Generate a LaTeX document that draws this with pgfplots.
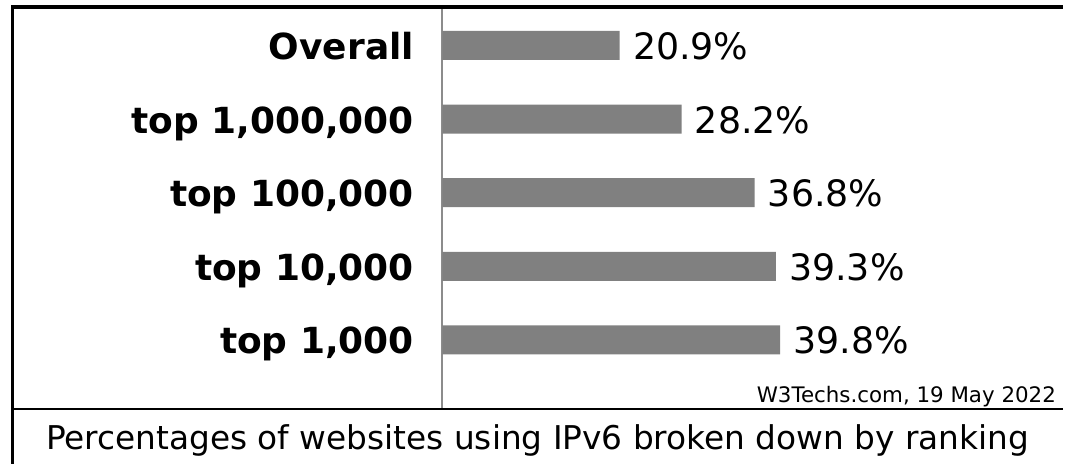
\documentclass[border=0pt]{standalone}
\usepackage{fontspec}
\setmainfont{DejaVu Sans}
\usepackage{pgfplots}
\pgfplotsset{compat=1.18}
\definecolor{barcol}{RGB}{128,128,128}
\definecolor{axcol}{RGB}{140,140,140}
\begin{document}
\begin{tikzpicture}
% 1 px of the reference = 0.5pt
\begin{scope}[x=0.5pt,y=-0.5pt]
  \useasboundingbox (0,0) rectangle (1065,465);
\end{scope}
\begin{axis}[
  at={(221.5pt,-205pt)}, anchor=south west,
  xbar,
  scale only axis,
  width=309.5pt, height=201pt,
  xmin=0, xmax=72.82,
  ymin=-0.942, ymax=4.508,
  bar width=14.5pt,
  axis x line=none,
  axis y line*=left,
  y axis line style={draw=axcol, line width=1pt, -},
  ytick={0,1,2,3,4},
  yticklabels={top 1{,}000, top 10{,}000, top 100{,}000, top 1{,}000{,}000, Overall},
  major tick length=0pt,
  yticklabel style={font=\fontsize{18}{21}\selectfont\bfseries, anchor=base east,
    inner sep=0pt, xshift=-14pt, yshift=-7pt},
  point meta=x,
  nodes near coords={\pgfmathprintnumber[fixed,fixed zerofill,precision=1,assume math mode=true]{\pgfplotspointmeta}\%},
  every node near coord/.append style={anchor=base west, inner sep=0pt,
    xshift=6.5pt, yshift=-7pt, font=\fontsize{18.2}{21}\selectfont, black},
  clip=false,
]
\addplot[fill=barcol, draw=none] coordinates {(20.9,4) (28.2,3) (36.8,2) (39.3,1) (39.8,0)};
\end{axis}
\begin{scope}[x=0.5pt,y=-0.5pt]
  \draw[line width=1.75pt] (12.5,7) -- (1065,7);
  \draw[line width=1.5pt] (12.5,5.5) -- (12.5,465);
  \draw[line width=1.25pt] (12.5,409.5) -- (1065,409.5);
  \node[anchor=base east, inner sep=0pt, font=\fontsize{10.7}{13}\selectfont] at (1058,403) {W3Techs.com, 19 May 2022};
  \node[anchor=base, inner sep=0pt, font=\fontsize{16.4}{19}\selectfont] at (538.5,450) {Percentages of websites using IPv6 broken down by ranking};
\end{scope}
\end{tikzpicture}
\end{document}
